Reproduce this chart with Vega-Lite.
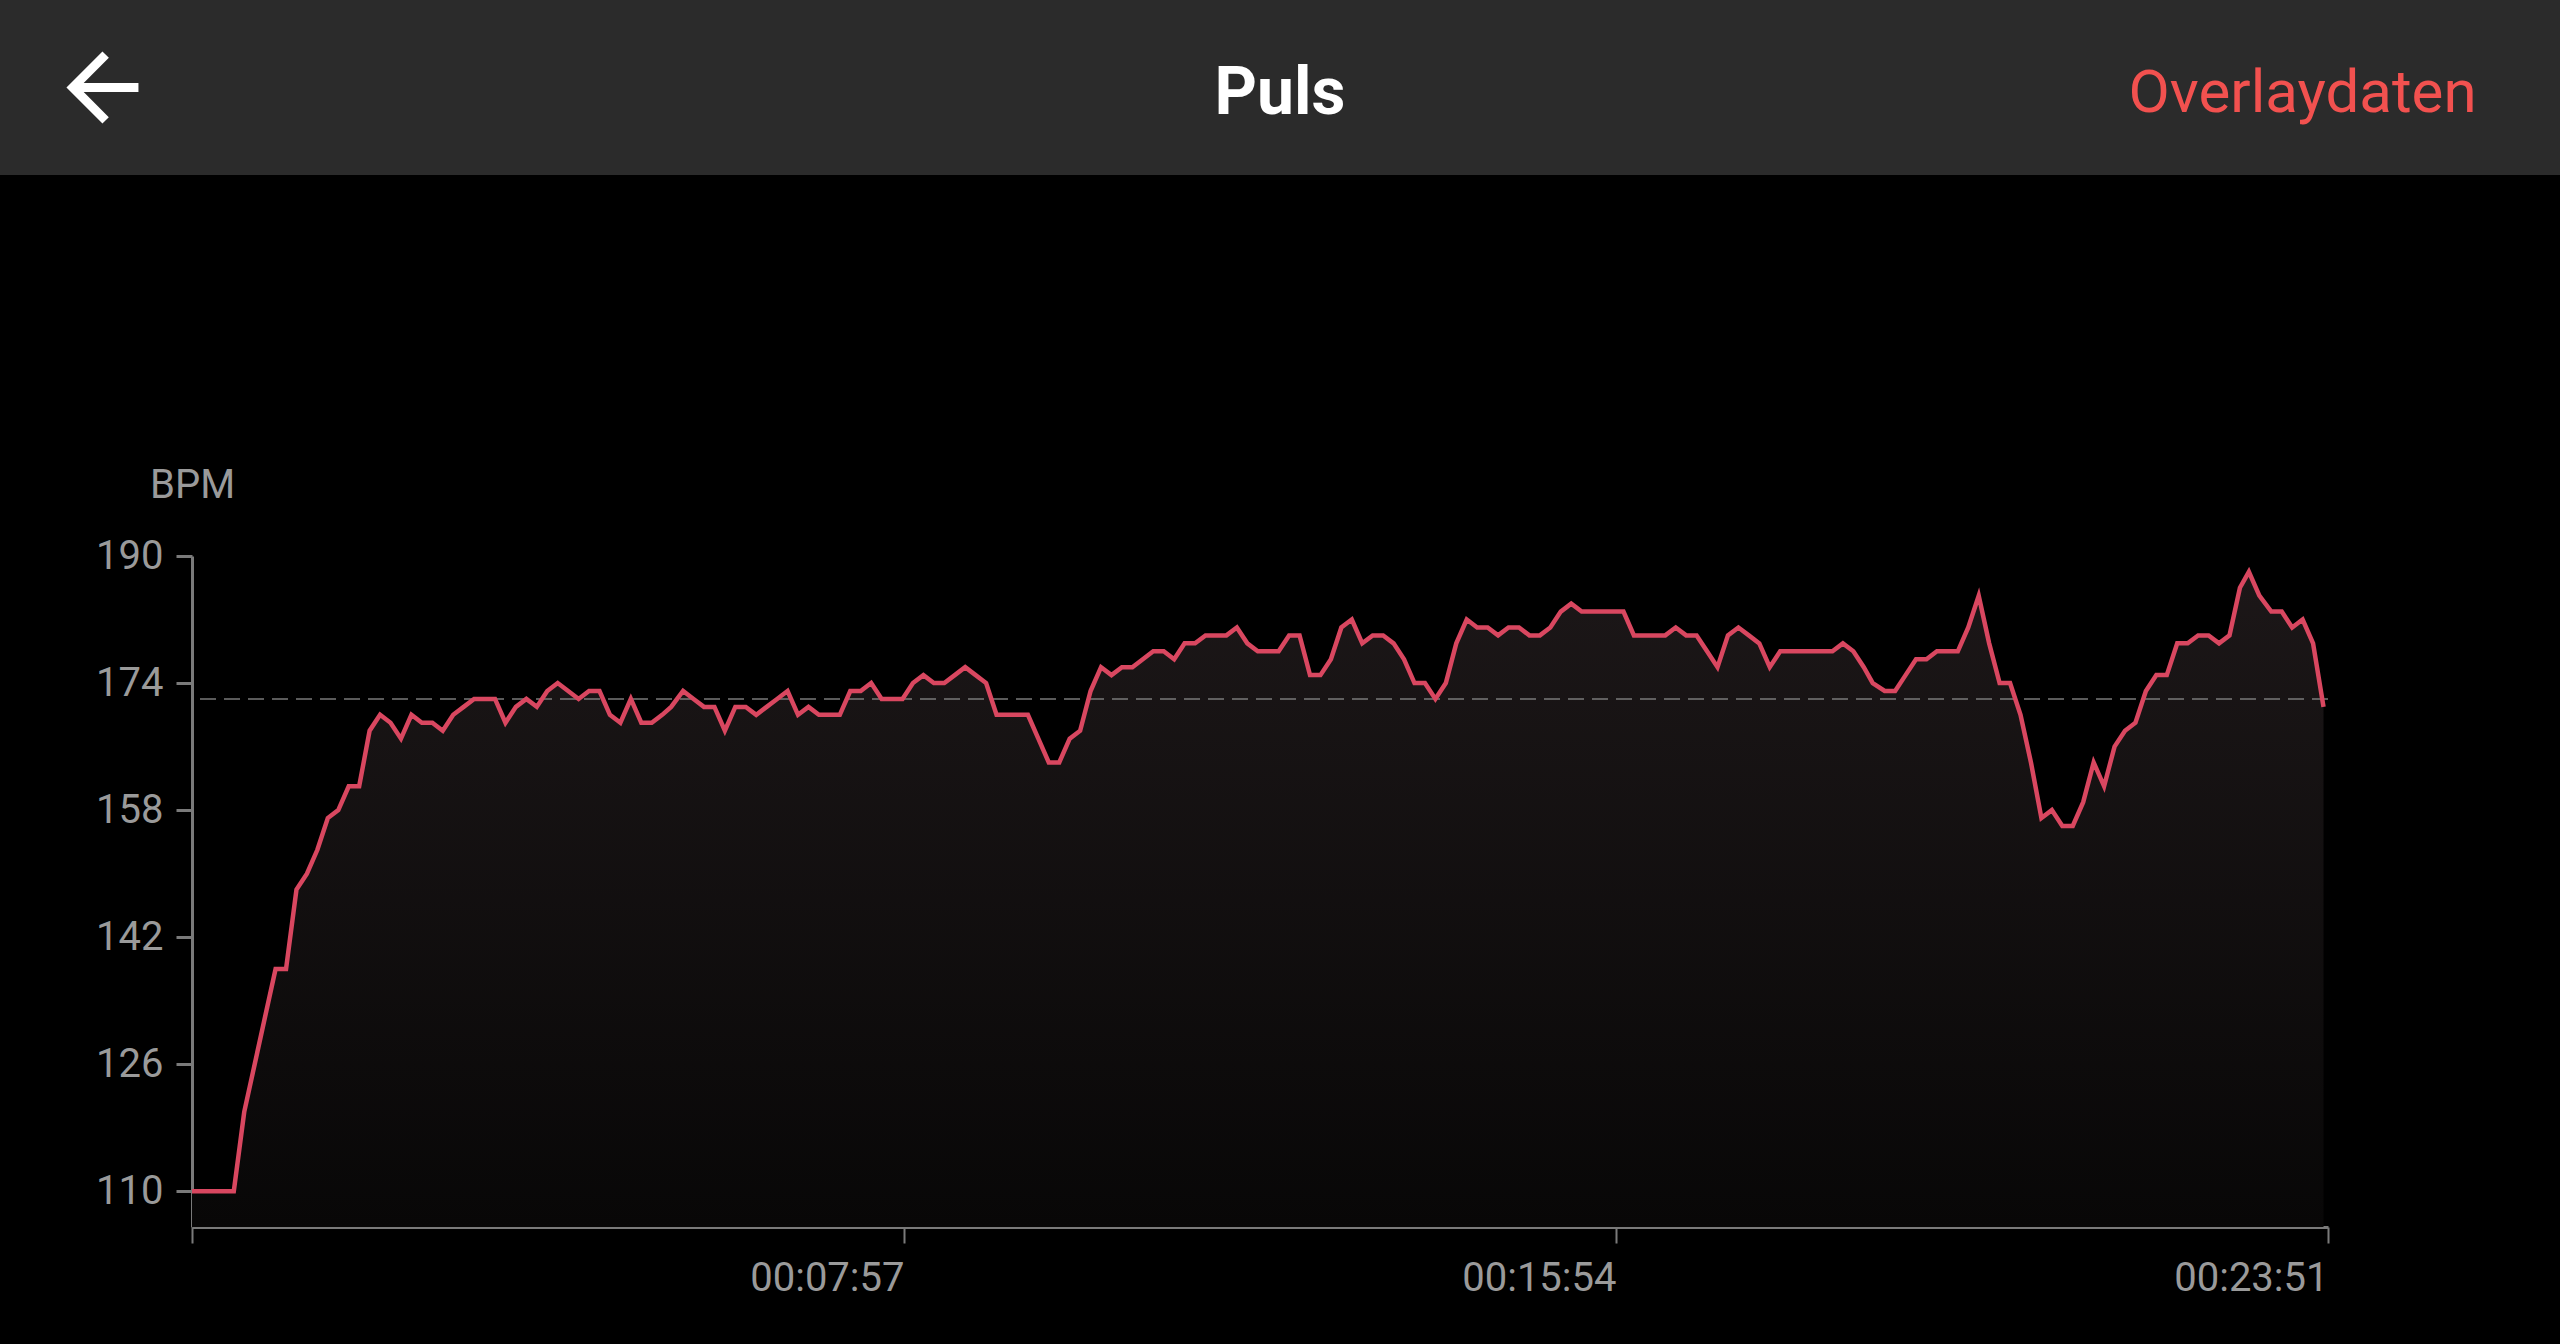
{
  "$schema": "https://vega.github.io/schema/vega-lite/v6.json",
  "background": "#000000",
  "padding": {"left": 0, "top": 0, "right": 0, "bottom": 46},
  "spacing": 290,
  "center": true,
  "config": {
    "font": "Roboto",
    "view": {"stroke": null},
    "axis": {"grid": false, "zindex": 1, "domainColor": "#7a7a7a", "tickColor": "#7a7a7a", "labelColor": "#9a9a9a", "labelFont": "Roboto", "labelFontSize": 40, "titleFont": "Roboto"}
  },
  "datasets": {
    "header": [
      {"role": "back", "label": ""},
      {"role": "title", "label": "Puls"},
      {"role": "action", "label": "Overlaydaten"}
    ],
    "hr": [
      {"t":0,"bpm":110},{"t":7,"bpm":110},{"t":14,"bpm":110},{"t":21,"bpm":110},{"t":28,"bpm":110},{"t":35,"bpm":120},{"t":42,"bpm":126},{"t":49,"bpm":132},{"t":56,"bpm":138},{"t":63,"bpm":138},
      {"t":70,"bpm":148},{"t":77,"bpm":150},{"t":84,"bpm":153},{"t":91,"bpm":157},{"t":98,"bpm":158},{"t":105,"bpm":161},{"t":112,"bpm":161},{"t":119,"bpm":168},{"t":126,"bpm":170},{"t":133,"bpm":169},
      {"t":140,"bpm":167},{"t":147,"bpm":170},{"t":154,"bpm":169},{"t":161,"bpm":169},{"t":168,"bpm":168},{"t":175,"bpm":170},{"t":182,"bpm":171},{"t":189,"bpm":172},{"t":196,"bpm":172},{"t":203,"bpm":172},
      {"t":210,"bpm":169},{"t":217,"bpm":171},{"t":224,"bpm":172},{"t":231,"bpm":171},{"t":238,"bpm":173},{"t":245,"bpm":174},{"t":252,"bpm":173},{"t":259,"bpm":172},{"t":266,"bpm":173},{"t":273,"bpm":173},
      {"t":280,"bpm":170},{"t":287,"bpm":169},{"t":294,"bpm":172},{"t":301,"bpm":169},{"t":308,"bpm":169},{"t":315,"bpm":170},{"t":321,"bpm":171},{"t":329,"bpm":173},{"t":336,"bpm":172},{"t":343,"bpm":171},
      {"t":350,"bpm":171},{"t":357,"bpm":168},{"t":364,"bpm":171},{"t":371,"bpm":171},{"t":378,"bpm":170},{"t":385,"bpm":171},{"t":392,"bpm":172},{"t":399,"bpm":173},{"t":406,"bpm":170},{"t":413,"bpm":171},
      {"t":420,"bpm":170},{"t":427,"bpm":170},{"t":434,"bpm":170},{"t":441,"bpm":173},{"t":448,"bpm":173},{"t":455,"bpm":174},{"t":462,"bpm":172},{"t":469,"bpm":172},{"t":476,"bpm":172},{"t":483,"bpm":174},
      {"t":490,"bpm":175},{"t":497,"bpm":174},{"t":504,"bpm":174},{"t":511,"bpm":175},{"t":518,"bpm":176},{"t":525,"bpm":175},{"t":532,"bpm":174},{"t":539,"bpm":170},{"t":546,"bpm":170},{"t":553,"bpm":170},
      {"t":560,"bpm":170},{"t":567,"bpm":167},{"t":574,"bpm":164},{"t":581,"bpm":164},{"t":588,"bpm":167},{"t":595,"bpm":168},{"t":602,"bpm":173},{"t":609,"bpm":176},{"t":616,"bpm":175},{"t":623,"bpm":176},
      {"t":630,"bpm":176},{"t":637,"bpm":177},{"t":644,"bpm":178},{"t":651,"bpm":178},{"t":658,"bpm":177},{"t":665,"bpm":179},{"t":672,"bpm":179},{"t":679,"bpm":180},{"t":686,"bpm":180},{"t":693,"bpm":180},
      {"t":700,"bpm":181},{"t":707,"bpm":179},{"t":714,"bpm":178},{"t":721,"bpm":178},{"t":728,"bpm":178},{"t":735,"bpm":180},{"t":742,"bpm":180},{"t":749,"bpm":175},{"t":756,"bpm":175},{"t":763,"bpm":177},
      {"t":770,"bpm":181},{"t":777,"bpm":182},{"t":784,"bpm":179},{"t":791,"bpm":180},{"t":798,"bpm":180},{"t":805,"bpm":179},{"t":812,"bpm":177},{"t":819,"bpm":174},{"t":826,"bpm":174},{"t":833,"bpm":172},
      {"t":840,"bpm":174},{"t":847,"bpm":179},{"t":854,"bpm":182},{"t":861,"bpm":181},{"t":868,"bpm":181},{"t":875,"bpm":180},{"t":882,"bpm":181},{"t":889,"bpm":181},{"t":896,"bpm":180},{"t":903,"bpm":180},
      {"t":910,"bpm":181},{"t":917,"bpm":183},{"t":924,"bpm":184},{"t":931,"bpm":183},{"t":938,"bpm":183},{"t":945,"bpm":183},{"t":952,"bpm":183},{"t":959,"bpm":183},{"t":966,"bpm":180},{"t":973,"bpm":180},
      {"t":980,"bpm":180},{"t":987,"bpm":180},{"t":994,"bpm":181},{"t":1001,"bpm":180},{"t":1008,"bpm":180},{"t":1015,"bpm":178},{"t":1022,"bpm":176},{"t":1029,"bpm":180},{"t":1036,"bpm":181},{"t":1043,"bpm":180},
      {"t":1050,"bpm":179},{"t":1057,"bpm":176},{"t":1064,"bpm":178},{"t":1071,"bpm":178},{"t":1078,"bpm":178},{"t":1085,"bpm":178},{"t":1092,"bpm":178},{"t":1099,"bpm":178},{"t":1106,"bpm":179},{"t":1113,"bpm":178},
      {"t":1120,"bpm":176},{"t":1126,"bpm":174},{"t":1134,"bpm":173},{"t":1141,"bpm":173},{"t":1148,"bpm":175},{"t":1155,"bpm":177},{"t":1162,"bpm":177},{"t":1169,"bpm":178},{"t":1176,"bpm":178},{"t":1183,"bpm":178},
      {"t":1190,"bpm":181},{"t":1197,"bpm":185},{"t":1204,"bpm":179},{"t":1211,"bpm":174},{"t":1218,"bpm":174},{"t":1225,"bpm":170},{"t":1232,"bpm":164},{"t":1239,"bpm":157},{"t":1246,"bpm":158},{"t":1253,"bpm":156},
      {"t":1260,"bpm":156},{"t":1267,"bpm":159},{"t":1274,"bpm":164},{"t":1281,"bpm":161},{"t":1288,"bpm":166},{"t":1295,"bpm":168},{"t":1302,"bpm":169},{"t":1309,"bpm":173},{"t":1316,"bpm":175},{"t":1323,"bpm":175},
      {"t":1330,"bpm":179},{"t":1337,"bpm":179},{"t":1344,"bpm":180},{"t":1351,"bpm":180},{"t":1358,"bpm":179},{"t":1365,"bpm":180},{"t":1372,"bpm":186},{"t":1378,"bpm":188},{"t":1385,"bpm":185},{"t":1393,"bpm":183},
      {"t":1400,"bpm":183},{"t":1407,"bpm":181},{"t":1414,"bpm":182},{"t":1421,"bpm":179},{"t":1428,"bpm":171}
    ]
  },
  "vconcat": [
    {
      "width": 2560,
      "height": 175,
      "view": {"fill": "#2b2b2b", "stroke": null},
      "data": {"name": "header"},
      "encoding": {
        "x": {"field": "role", "type": "nominal", "scale": {"type": "point", "domain": ["back", "title", "action"], "padding": 0.087}, "axis": null}
      },
      "layer": [
        {
          "transform": [{"filter": "datum.role === 'back'"}],
          "mark": {"type": "point", "shape": "M1,-0.125L-0.521,-0.125L0.178,-0.824L0,-1L-1,0L0,1L0.176,0.824L-0.521,0.125L1,0.125Z", "filled": true, "color": "#ffffff", "opacity": 1, "size": 5184}
        },
        {
          "transform": [{"filter": "datum.role === 'title'"}],
          "mark": {"type": "text", "font": "Roboto", "fontSize": 66, "fontWeight": "bold", "color": "#ffffff", "baseline": "middle", "dy": 6},
          "encoding": {"text": {"field": "label"}}
        },
        {
          "transform": [{"filter": "datum.role === 'action'"}],
          "mark": {"type": "text", "font": "Roboto", "fontSize": 60, "color": "#f2514f", "align": "right", "baseline": "middle", "dy": 6, "dx": 19},
          "encoding": {"text": {"field": "label"}}
        }
      ]
    },
    {
      "width": 2136,
      "height": 671,
      "resolve": {"axis": {"y": "independent"}},
      "layer": [
        {
          "data": {"name": "hr"},
          "mark": {"type": "area", "color": {"gradient": "linear", "x1": 0, "y1": 0, "x2": 0, "y2": 1, "stops": [{"offset": 0, "color": "#1c1718"}, {"offset": 1, "color": "#080707"}]}},
          "encoding": {
            "x": {"field": "t", "type": "quantitative", "scale": {"domain": [0, 1431], "nice": false, "zero": false},
              "axis": {"values": [0, 477, 954, 1431], "title": null, "labelExpr": "datum.value == 0 ? '' : utcFormat(datum.value * 1000, '%H:%M:%S')", "labelAlign": "right", "labelFlush": false, "labelOverlap": false, "labelBound": false, "labelPadding": 15, "tickSize": 16, "tickWidth": 2, "domainWidth": 3}},
            "y": {"field": "bpm", "type": "quantitative", "scale": {"domain": [105.5, 190], "nice": false, "zero": false},
              "axis": {"orient": "left", "values": [110, 126, 142, 158, 174, 190], "title": "BPM", "titleAngle": 0, "titleX": 0, "titleY": -59, "titleAlign": "center", "titleBaseline": "alphabetic", "titleFontSize": 40, "titleFontWeight": "normal", "titleColor": "#9a9a9a", "labelPadding": 13, "tickSize": 16, "tickWidth": 3, "domainWidth": 3, "minExtent": 192, "maxExtent": 192, "labelFlush": false, "labelOverlap": false}},
            "y2": {"datum": 105.5}
          }
        },
        {
          "data": {"values": [{"avg": 172}]},
          "mark": {"type": "rule", "color": "#7a7a7a", "strokeWidth": 1.5, "strokeDash": [16, 8]},
          "encoding": {"y": {"field": "avg", "type": "quantitative",
            "axis": {"orient": "right", "title": null, "labels": false, "ticks": false, "domain": false, "grid": false, "minExtent": 40, "maxExtent": 40}}}
        },
        {
          "data": {"name": "hr"},
          "mark": {"type": "line", "color": "#d94760", "strokeWidth": 4.5},
          "encoding": {
            "x": {"field": "t", "type": "quantitative"},
            "y": {"field": "bpm", "type": "quantitative", "axis": null}
          }
        }
      ]
    }
  ]
}
